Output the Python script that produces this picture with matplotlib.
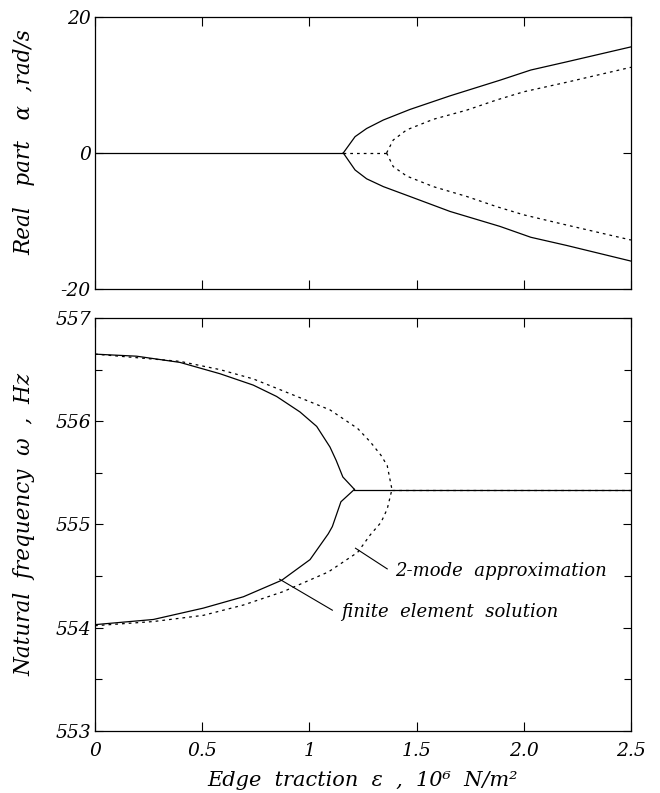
#!/usr/bin/env python3

import matplotlib

matplotlib.use("Agg")

import matplotlib.pyplot as plt
from matplotlib.ticker import MultipleLocator

# --- top panel: real part alpha (rad/s) vs edge traction (10^6 N/m^2) ---
fe_flat_x = [0.0, 0.5, 1.0, 1.158]
fe_flat_y = [0.0, 0.0, 0.0, 0.0]
fe_re_x = [1.158, 1.213, 1.267, 1.345, 1.469, 1.656, 1.889, 2.033, 2.2, 2.5]
fe_re_up = [0.0, 2.4, 3.6, 4.85, 6.4, 8.4, 10.7, 12.2, 13.4, 15.6]
fe_re_lo = [0.0, -2.5, -3.8, -4.95, -6.4, -8.6, -10.8, -12.4, -13.6, -15.9]

tm_flat_x = [1.158, 1.36]
tm_flat_y = [0.0, 0.0]
tm_re_x = [1.36, 1.391, 1.454, 1.578, 1.734, 1.874, 2.0, 2.2, 2.5]
tm_re_up = [0.0, 1.9, 3.4, 4.95, 6.3, 7.8, 9.0, 10.4, 12.6]
tm_re_lo = [0.0, -2.0, -3.4, -4.95, -6.4, -7.9, -9.1, -10.6, -12.8]

# --- bottom panel: natural frequency omega (Hz) ---
fe_up_x = [0.0, 0.194, 0.396, 0.583, 0.738, 0.847, 0.956, 1.034, 1.096, 1.125, 1.156, 1.21]
fe_up_y = [556.65, 556.63, 556.57, 556.46, 556.35, 556.24, 556.09, 555.95, 555.75, 555.62, 555.46, 555.34]
fe_lo_x = [0.0, 0.272, 0.505, 0.692, 0.871, 1.003, 1.088, 1.107, 1.147, 1.21]
fe_lo_y = [554.03, 554.08, 554.19, 554.30, 554.46, 554.66, 554.91, 554.98, 555.22, 555.34]
fe_merged_x = [1.21, 2.5]
fe_merged_y = [555.33, 555.33]

tm_up_x = [0.0, 0.396, 0.583, 0.738, 0.894, 1.096, 1.225, 1.284, 1.334, 1.363, 1.385]
tm_up_y = [556.65, 556.58, 556.50, 556.41, 556.28, 556.11, 555.93, 555.80, 555.67, 555.57, 555.34]
tm_lo_x = [0.0, 0.272, 0.505, 0.692, 0.878, 1.088, 1.225, 1.284, 1.334, 1.363, 1.385]
tm_lo_y = [554.02, 554.06, 554.12, 554.22, 554.35, 554.54, 554.73, 554.90, 555.02, 555.15, 555.34]
tm_merged_x = [1.385, 2.5]
tm_merged_y = [555.33, 555.33]

# annotation leader lines (data coordinates)
tm_leader_x = [1.215, 1.363]
tm_leader_y = [554.77, 554.57]
fe_leader_x = [0.861, 1.107]
fe_leader_y = [554.47, 554.17]

x_ticks = [0, 0.5, 1, 1.5, 2.0, 2.5]
x_tick_labels = ["0", "0.5", "1", "1.5", "2.0", "2.5"]
top_y_ticks = [-20, 0, 20]
top_y_labels = ["-20", "0", "20"]

FONT = dict(fontfamily="DejaVu Serif", fontstyle="italic")
LINE = dict(color="black", linewidth=0.9)
DASH = dict(color="black", linewidth=0.9, linestyle=(0, (2.2, 3.2)))
TICK_SIZE = 13.5
LABEL_SIZE = 15.5


def style_axes(ax):
    ax.tick_params(which="both", direction="in", top=True, right=True, width=0.8)
    ax.tick_params(axis="x", which="major", length=6.5, pad=8)
    ax.tick_params(axis="y", which="major", length=6, pad=3)
    ax.tick_params(axis="y", which="minor", length=5)
    for spine in ax.spines.values():
        spine.set_linewidth(0.9)
    for label in ax.get_xticklabels() + ax.get_yticklabels():
        label.set_fontfamily(FONT["fontfamily"])
        label.set_fontstyle(FONT["fontstyle"])
        label.set_fontsize(TICK_SIZE)


fig = plt.figure(figsize=(6.6, 7.93), dpi=100)
ax_top = fig.add_axes([0.144, 0.6356, 0.812, 0.343])
ax_bot = fig.add_axes([0.144, 0.0782, 0.812, 0.5208])

# top panel
ax_top.plot(fe_flat_x, fe_flat_y, **LINE)
ax_top.plot(fe_re_x, fe_re_up, **LINE)
ax_top.plot(fe_re_x, fe_re_lo, **LINE)
ax_top.plot(tm_flat_x, tm_flat_y, **DASH)
ax_top.plot(tm_re_x, tm_re_up, **DASH)
ax_top.plot(tm_re_x, tm_re_lo, **DASH)
ax_top.set_xlim(0, 2.5)
ax_top.set_ylim(-20, 20)
ax_top.set_xticks(x_ticks)
ax_top.set_xticklabels([])
ax_top.set_yticks(top_y_ticks)
ax_top.set_yticklabels(top_y_labels)
ax_top.set_ylabel("Real   part   \u03b1  ,rad/s", fontsize=LABEL_SIZE, **FONT)
ax_top.yaxis.set_label_coords(-0.112, 0.54)
style_axes(ax_top)

# bottom panel
ax_bot.plot(fe_up_x, fe_up_y, **LINE)
ax_bot.plot(fe_lo_x, fe_lo_y, **LINE)
ax_bot.plot(fe_merged_x, fe_merged_y, **LINE)
ax_bot.plot(tm_up_x, tm_up_y, **DASH)
ax_bot.plot(tm_lo_x, tm_lo_y, **DASH)
ax_bot.plot(tm_merged_x, tm_merged_y, **DASH)
ax_bot.set_xlim(0, 2.5)
ax_bot.set_ylim(553, 557)
ax_bot.set_xticks(x_ticks)
ax_bot.set_xticklabels(x_tick_labels)
ax_bot.yaxis.set_major_locator(MultipleLocator(1))
ax_bot.yaxis.set_minor_locator(MultipleLocator(0.5))
ax_bot.set_ylabel("Natural  frequency  \u03c9  ,  Hz", fontsize=LABEL_SIZE, **FONT)
ax_bot.yaxis.set_label_coords(-0.112, 0.5)
ax_bot.set_xlabel("Edge  traction  \u03b5  ,  10\u2076  N/m\u00b2", fontsize=15,
                  labelpad=8, **FONT)
style_axes(ax_bot)

ax_bot.plot(tm_leader_x, tm_leader_y, color="black", linewidth=0.8)
ax_bot.plot(fe_leader_x, fe_leader_y, color="black", linewidth=0.8)
ax_bot.text(1.40, 554.55, "2-mode  approximation", fontsize=13, va="center", ha="left", **FONT)
ax_bot.text(1.147, 554.15, "finite  element  solution", fontsize=13, va="center", ha="left", **FONT)

fig.savefig("out.png", dpi=100)
